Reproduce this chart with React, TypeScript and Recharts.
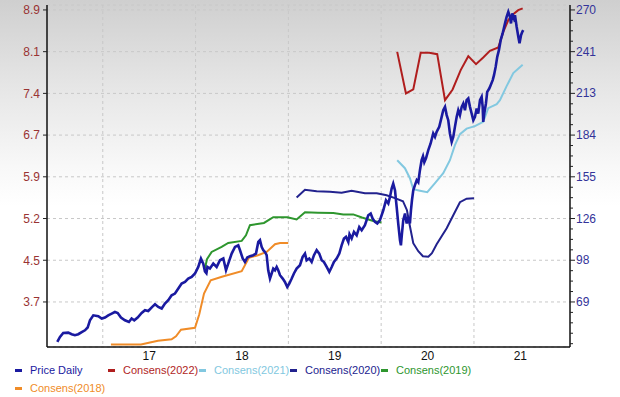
import React from "react";
import { LineChart, Line, XAxis, YAxis, CartesianGrid } from "recharts";

// ---- data (x = decimal year) ----
const PRICE_DAILY: [number, number][] = [
  [2016.510,41.5],[2016.539,44.9],[2016.574,47.7],[2016.628,47.9],[2016.665,46.8],[2016.700,46.1],[2016.736,46.8],[2016.773,48.3],[2016.808,49.5],[2016.837,51.4],[2016.862,56.4],[2016.898,59.8],[2016.952,59.2],[2016.988,57.6],[2017.024,58.3],[2017.059,59.8],[2017.096,61.0],[2017.131,62.1],[2017.161,61.4],[2017.196,58.3],[2017.239,56.4],[2017.282,55.2],[2017.311,57.6],[2017.339,56.4],[2017.376,58.3],[2017.419,61.4],[2017.455,63.3],[2017.490,62.8],[2017.533,65.6],[2017.563,67.4],[2017.598,65.6],[2017.635,64.5],[2017.670,67.9],[2017.706,70.2],[2017.742,73.6],[2017.778,74.8],[2017.814,78.2],[2017.850,81.7],[2017.886,82.8],[2017.921,85.1],[2017.958,86.2],[2017.994,88.6],[2018.029,93.1],[2018.058,98.9],[2018.083,95.4],[2018.101,90.1],[2018.117,88.8],[2018.128,93.1],[2018.155,92.0],[2018.191,95.4],[2018.227,93.1],[2018.263,97.7],[2018.299,98.9],[2018.328,90.8],[2018.352,95.4],[2018.389,102.3],[2018.425,106.9],[2018.460,108.0],[2018.479,104.6],[2018.508,98.9],[2018.532,96.5],[2018.557,99.6],[2018.586,100.5],[2018.622,101.2],[2018.651,102.3],[2018.676,110.3],[2018.694,111.5],[2018.712,106.9],[2018.730,104.6],[2018.748,103.4],[2018.766,101.2],[2018.783,90.8],[2018.802,85.1],[2018.820,88.6],[2018.837,92.0],[2018.856,90.8],[2018.874,93.1],[2018.891,90.8],[2018.910,87.4],[2018.939,85.1],[2018.963,82.8],[2018.988,79.3],[2019.010,81.7],[2019.036,85.1],[2019.060,88.6],[2019.089,92.0],[2019.125,94.3],[2019.154,100.0],[2019.179,102.3],[2019.197,97.7],[2019.225,98.9],[2019.251,96.5],[2019.276,101.2],[2019.305,104.6],[2019.333,102.3],[2019.359,97.7],[2019.384,96.5],[2019.413,93.1],[2019.441,89.7],[2019.467,93.1],[2019.491,96.5],[2019.520,98.9],[2019.549,102.3],[2019.574,108.0],[2019.599,112.7],[2019.621,113.8],[2019.646,110.3],[2019.659,115.6],[2019.682,112.7],[2019.707,117.2],[2019.736,114.9],[2019.764,120.6],[2019.790,118.4],[2019.825,121.8],[2019.861,128.7],[2019.887,129.9],[2019.908,126.4],[2019.933,124.1],[2019.958,123.0],[2019.987,125.3],[2020.023,132.1],[2020.052,139.0],[2020.077,136.8],[2020.095,141.3],[2020.113,147.1],[2020.130,150.5],[2020.149,145.9],[2020.167,134.4],[2020.184,123.0],[2020.203,111.5],[2020.213,108.0],[2020.224,116.1],[2020.238,125.3],[2020.257,129.9],[2020.275,123.0],[2020.292,127.5],[2020.310,123.0],[2020.321,132.1],[2020.332,139.0],[2020.346,145.9],[2020.364,149.4],[2020.383,152.8],[2020.400,151.4],[2020.418,159.7],[2020.436,166.6],[2020.451,169.3],[2020.465,165.2],[2020.483,167.9],[2020.508,173.5],[2020.533,178.1],[2020.561,185.0],[2020.580,182.6],[2020.598,186.1],[2020.626,189.5],[2020.652,196.4],[2020.669,201.0],[2020.688,203.3],[2020.706,197.6],[2020.723,194.1],[2020.741,185.0],[2020.760,179.2],[2020.777,182.6],[2020.795,189.5],[2020.814,196.4],[2020.831,201.0],[2020.849,197.6],[2020.868,203.3],[2020.885,205.6],[2020.903,201.0],[2020.921,207.9],[2020.939,209.1],[2020.957,203.3],[2020.975,198.7],[2020.993,194.1],[2021.011,196.4],[2021.029,202.2],[2021.046,198.7],[2021.065,207.9],[2021.083,210.2],[2021.094,203.3],[2021.100,192.9],[2021.111,198.7],[2021.129,205.6],[2021.143,213.6],[2021.165,215.9],[2021.180,218.2],[2021.202,221.7],[2021.216,225.1],[2021.234,230.8],[2021.251,237.7],[2021.269,242.3],[2021.288,249.2],[2021.309,253.8],[2021.334,260.7],[2021.352,265.2],[2021.370,268.7],[2021.388,265.2],[2021.399,260.7],[2021.413,267.6],[2021.431,264.1],[2021.442,266.4],[2021.460,258.4],[2021.478,251.5],[2021.491,247.1],[2021.507,252.6],[2021.521,254.9],[2021.531,256.1],
];

const CONSENS_2022: [number, number][] = [
  [2020.173,8.154],[2020.267,7.413],[2020.346,7.484],[2020.426,8.136],[2020.518,8.136],[2020.604,8.113],[2020.688,7.293],[2020.770,7.484],[2020.857,7.828],[2020.939,8.077],[2021.022,7.935],[2021.100,8.054],[2021.172,8.172],[2021.262,8.232],[2021.316,8.510],[2021.370,8.719],[2021.423,8.826],[2021.477,8.897],[2021.525,8.927],
];

const CONSENS_2021: [number, number][] = [
  [2020.173,6.224],[2020.256,6.082],[2020.310,5.904],[2020.346,5.708],[2020.418,5.681],[2020.497,5.654],[2020.580,5.815],[2020.669,5.993],[2020.741,6.224],[2020.795,6.492],[2020.849,6.688],[2020.921,6.786],[2021.010,6.830],[2021.100,6.907],[2021.154,7.151],[2021.245,7.222],[2021.280,7.293],[2021.352,7.543],[2021.424,7.775],[2021.525,7.926],
];

const CONSENS_2020: [number, number][] = [
  [2019.089,5.560],[2019.179,5.699],[2019.305,5.672],[2019.448,5.663],[2019.574,5.646],[2019.682,5.678],[2019.825,5.637],[2019.952,5.637],[2020.059,5.601],[2020.149,5.548],[2020.235,5.494],[2020.278,5.334],[2020.310,5.049],[2020.346,4.746],[2020.400,4.603],[2020.450,4.514],[2020.508,4.505],[2020.547,4.568],[2020.598,4.728],[2020.706,5.013],[2020.777,5.245],[2020.849,5.476],[2020.921,5.539],[2021.000,5.548],
];

const CONSENS_2019: [number, number][] = [
  [2018.101,4.295],[2018.123,4.461],[2018.173,4.591],[2018.281,4.680],[2018.352,4.751],[2018.497,4.787],[2018.543,4.888],[2018.586,5.066],[2018.737,5.107],[2018.837,5.209],[2018.990,5.209],[2019.089,5.168],[2019.179,5.298],[2019.319,5.289],[2019.484,5.284],[2019.592,5.259],[2019.699,5.259],[2019.793,5.204],[2019.915,5.143],[2020.003,5.115],
];

const CONSENS_2018: [number, number][] = [
  [2017.088,2.941],[2017.412,2.941],[2017.509,2.977],[2017.595,3.009],[2017.742,3.035],[2017.789,3.089],[2017.843,3.205],[2017.994,3.240],[2018.040,3.481],[2018.091,3.850],[2018.163,4.087],[2018.284,4.149],[2018.497,4.247],[2018.575,4.487],[2018.672,4.532],[2018.766,4.591],[2018.856,4.728],[2018.910,4.751],[2018.999,4.751],
];

const YEAR_BOUNDARIES = [2017, 2018, 2019, 2020, 2021];
const X_TICKS = [2017.5, 2018.5, 2019.5, 2020.5, 2021.5];
const X_TICK_LABELS = ["17", "18", "19", "20", "21"];
const X_DOMAIN: [number, number] = [2016.399, 2022.035];

const LEFT_TICK_LABELS = ["3.7", "4.5", "5.2", "5.9", "6.7", "7.4", "8.1", "8.9"];
const LEFT_LOW = 3.7;
const LEFT_HIGH = 8.9;
const LEFT_DOMAIN: [number, number] = [2.898, 8.988];

const RIGHT_TICK_LABELS = ["69", "98", "126", "155", "184", "213", "241", "270"];
const RIGHT_LOW = 69;
const RIGHT_HIGH = 270;
const RIGHT_DOMAIN: [number, number] = [38, 273.4];
const MINOR_PER_MAJOR = 4;

const SERIES = [
  { name: "Price Daily", data: PRICE_DAILY, color: "#1a1aa0", axis: "right", width: 2.6 },
  { name: "Consens(2022)", data: CONSENS_2022, color: "#b01e1e", axis: "left", width: 2 },
  { name: "Consens(2021)", data: CONSENS_2021, color: "#82c8e0", axis: "left", width: 2 },
  { name: "Consens(2020)", data: CONSENS_2020, color: "#22228e", axis: "left", width: 2 },
  { name: "Consens(2019)", data: CONSENS_2019, color: "#2e962e", axis: "left", width: 2 },
  { name: "Consens(2018)", data: CONSENS_2018, color: "#f08c28", axis: "left", width: 2 },
];

// ---- derived ----
const leftStep = (LEFT_HIGH - LEFT_LOW) / (LEFT_TICK_LABELS.length - 1);
const leftTicks = LEFT_TICK_LABELS.map((_, i) => LEFT_LOW + i * leftStep);
const rightStep = (RIGHT_HIGH - RIGHT_LOW) / (RIGHT_TICK_LABELS.length - 1);
const rightMinorStep = rightStep / MINOR_PER_MAJOR;
const rightTicks: number[] = [];
for (let j = -4; j <= (RIGHT_TICK_LABELS.length - 1) * MINOR_PER_MAJOR; j++) {
  rightTicks.push(RIGHT_LOW + j * rightMinorStep);
}

const toRows = (arr: [number, number][]) => arr.map(([t, v]) => ({ t, v }));

const FONT = "'Liberation Sans', Arial, sans-serif";

const RightTick = (props: any) => {
  const { x, y, payload } = props;
  const k = (payload.value - RIGHT_LOW) / rightStep;
  const idx = Math.round(k);
  const major = Math.abs(k - idx) < 1e-6 && idx >= 0;
  const axisX = x - 6;
  return (
    <g>
      <line x1={axisX} x2={axisX + (major ? 5 : 3)} y1={y} y2={y} stroke="#222" strokeWidth={1} />
      {major && (
        <text x={x} y={y} dy={4} fill="#333399" fontSize={12} fontFamily={FONT} textAnchor="start">
          {RIGHT_TICK_LABELS[idx]}
        </text>
      )}
    </g>
  );
};

const verticalGen = (p: any) => {
  const sc = p && p.xAxis && p.xAxis.scale;
  if (typeof sc === "function") return YEAR_BOUNDARIES.map((yr) => sc(yr));
  if (sc && typeof sc.map === "function") return YEAR_BOUNDARIES.map((yr) => sc.map(yr));
  const off = p.offset;
  return YEAR_BOUNDARIES.map(
    (yr) => off.left + ((yr - X_DOMAIN[0]) / (X_DOMAIN[1] - X_DOMAIN[0])) * off.width
  );
};

const Legend = () => {
  const row1 = SERIES.slice(0, 5);
  const row2 = SERIES.slice(5);
  const lefts = [15, 108, 199, 290, 381];
  const item = (s: any, left: number, top: number) => (
    <div key={s.name} style={{ position: "absolute", left, top, display: "flex", alignItems: "center", whiteSpace: "nowrap" }}>
      <div style={{ width: 7, height: 3, background: s.color, marginRight: 8 }} />
      <span style={{ color: s.color, fontSize: 11, fontFamily: FONT }}>{s.name}</span>
    </div>
  );
  return (
    <>
      {row1.map((s, i) => item(s, lefts[i], 364))}
      {row2.map((s) => item(s, 15, 382))}
    </>
  );
};

export default function App() {
  return (
    <div
      style={{
        position: "absolute",
        left: 0,
        top: 0,
        width: 620,
        height: 397,
        background: "linear-gradient(to bottom, #cfcfcf 0%, #e6e6e6 22%, #f8f8f8 42%, #ffffff 52%, #ffffff 100%)",
        overflow: "hidden",
      }}
    >
      <LineChart width={620} height={362} margin={{ top: 5, right: 0, bottom: 0, left: 0 }}>
        <CartesianGrid
          yAxisId="left"
          stroke="#c8c8c8"
          strokeDasharray="3 3"
          verticalCoordinatesGenerator={verticalGen}
        />
        <XAxis
          dataKey="t"
          type="number"
          domain={X_DOMAIN}
          allowDataOverflow
          ticks={X_TICKS}
          tickFormatter={(v: number) => X_TICK_LABELS[X_TICKS.indexOf(v)]}
          height={15}
          tickLine={false}
          tickSize={2}
          axisLine={{ stroke: "#111", strokeWidth: 1.5 }}
          tick={{ fill: "#111", fontSize: 12, fontFamily: FONT }}
          interval={0}
        />
        <YAxis
          yAxisId="left"
          orientation="left"
          type="number"
          domain={LEFT_DOMAIN}
          allowDataOverflow
          ticks={leftTicks}
          interval={0}
          tickFormatter={(_v: number, i: number) => LEFT_TICK_LABELS[i]}
          width={47}
          tickSize={4}
          tickMargin={3}
          tickLine={{ stroke: "#222" }}
          axisLine={{ stroke: "#111", strokeWidth: 1.5 }}
          tick={{ fill: "#993333", fontSize: 12, fontFamily: FONT }}
        />
        <YAxis
          yAxisId="right"
          orientation="right"
          type="number"
          domain={RIGHT_DOMAIN}
          allowDataOverflow
          ticks={rightTicks}
          interval={0}
          width={50}
          tickSize={4}
          tickMargin={2}
          tickLine={false}
          axisLine={{ stroke: "#111", strokeWidth: 1.5 }}
          tick={<RightTick />}
        />
        {SERIES.slice().reverse().map((s) => (
          <Line
            key={s.name}
            yAxisId={s.axis}
            data={toRows(s.data)}
            dataKey="v"
            type="linear"
            stroke={s.color}
            strokeWidth={s.width}
            dot={false}
            activeDot={false}
            isAnimationActive={false}
            name={s.name}
          />
        ))}
      </LineChart>
      <Legend />
    </div>
  );
}
